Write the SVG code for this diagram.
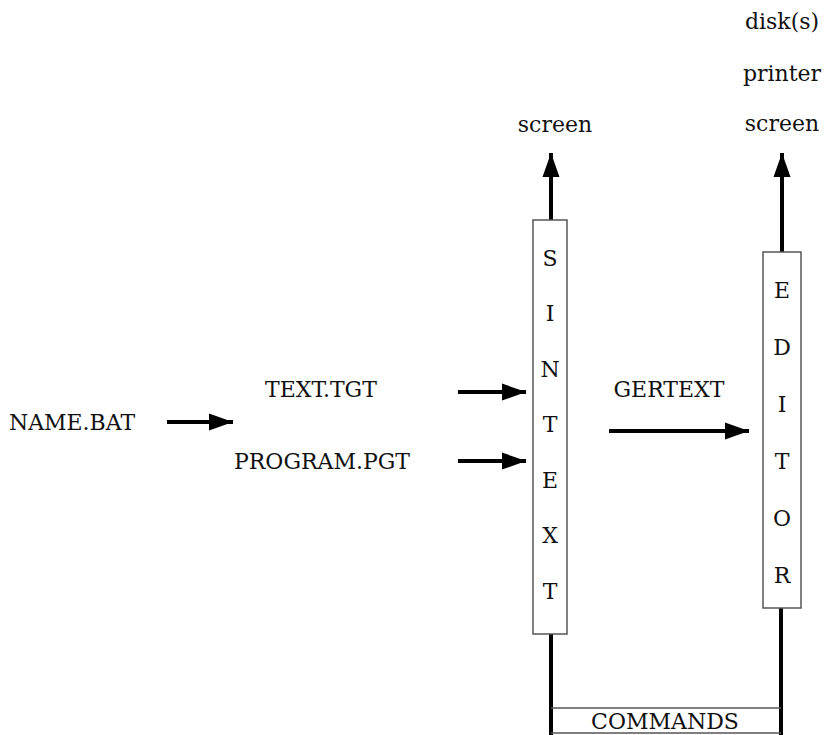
<svg xmlns="http://www.w3.org/2000/svg" width="825" height="735" viewBox="0 0 825 735">
<style>
text{font-size:22px;fill:#111;text-anchor:middle}
.box{fill:#fff;stroke:#555;stroke-width:1.5}
.thick{stroke:#000;stroke-width:4;fill:none}
.thin{stroke:#555;stroke-width:1.5;fill:none}
</style>
<defs>
<marker id="ah" markerUnits="userSpaceOnUse" markerWidth="25" markerHeight="18" refX="24" refY="9" orient="auto">
<path d="M0,0.5 L24,9 L0,17.5 z" fill="#000"/>
</marker>
</defs>
<rect width="825" height="735" fill="#fff"/>
<g id="connectors">
<line class="thick" x1="167" y1="422" x2="233" y2="422" marker-end="url(#ah)"/>
<line class="thick" x1="458" y1="392" x2="526" y2="392" marker-end="url(#ah)"/>
<line class="thick" x1="458" y1="461" x2="526" y2="461" marker-end="url(#ah)"/>
<line class="thick" x1="609" y1="431" x2="749" y2="431" marker-end="url(#ah)"/>
<line class="thick" x1="551" y1="220" x2="551" y2="153" marker-end="url(#ah)"/>
<line class="thick" x1="782" y1="252" x2="782" y2="153" marker-end="url(#ah)"/>
<line class="thick" x1="551" y1="634" x2="551" y2="735"/>
<line class="thick" x1="781" y1="608" x2="781" y2="735"/>
<line class="thin" x1="551" y1="708" x2="781" y2="708"/>
<line class="thin" x1="551" y1="733" x2="781" y2="733"/>
</g>
<g font-family="DejaVu Serif, Liberation Serif, serif">
<g id="name-bat"><text x="72" y="430">NAME.BAT</text></g>
<g id="text-tgt"><text x="321" y="397">TEXT.TGT</text></g>
<g id="program-pgt"><text x="322" y="469">PROGRAM.PGT</text></g>
<g id="gertext"><text x="669" y="397">GERTEXT</text></g>
<g id="screen-left"><text x="555" y="132">screen</text></g>
<g id="outputs-right">
<text x="782" y="29">disk(s)</text>
<text x="782" y="81">printer</text>
<text x="782" y="131">screen</text>
</g>
<g id="sintext">
<rect class="box" x="533" y="220" width="34" height="414"/>
<text x="550" y="266">S</text>
<text x="550" y="321">I</text>
<text x="550" y="377">N</text>
<text x="550" y="432">T</text>
<text x="550" y="488">E</text>
<text x="550" y="543">X</text>
<text x="550" y="599">T</text>
</g>
<g id="editor">
<rect class="box" x="763" y="252" width="38" height="356"/>
<text x="782" y="298">E</text>
<text x="782" y="355">D</text>
<text x="782" y="412">I</text>
<text x="782" y="469">T</text>
<text x="782" y="526">O</text>
<text x="782" y="583">R</text>
</g>
<g id="commands"><text x="665" y="729">COMMANDS</text></g>
</g>
</svg>
